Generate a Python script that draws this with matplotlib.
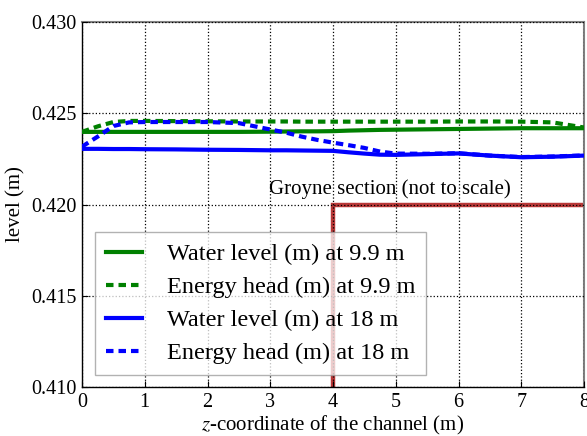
import matplotlib
matplotlib.use("Agg")
import matplotlib.pyplot as plt

plt.rcParams["font.family"] = ["Liberation Serif", "DejaVu Serif"]
plt.rcParams["mathtext.fontset"] = "stix"

# Longitudinal position along the channel (m)
z = [0.0, 0.25, 0.5, 0.75, 1.0, 1.5, 2.0, 2.5, 3.0, 3.25, 3.5, 3.75, 4.0, 4.25,
     4.5, 4.75, 5.0, 5.5, 6.0, 6.5, 7.0, 7.5, 7.75, 8.0]

# Section at 9.9 m
water_99 = [0.42398, 0.42398, 0.42398, 0.42398, 0.42398, 0.42398, 0.42398, 0.42398,
            0.42399, 0.42400, 0.42401, 0.42401, 0.42402, 0.42405, 0.42407, 0.42409,
            0.42410, 0.42412, 0.42414, 0.42416, 0.42418, 0.42418, 0.42418, 0.42418]
energy_99 = [0.42398, 0.42428, 0.42452, 0.42458, 0.42458, 0.42457, 0.42456, 0.42455,
             0.42455, 0.42455, 0.42454, 0.42454, 0.42454, 0.42454, 0.42454, 0.42454,
             0.42454, 0.42454, 0.42455, 0.42455, 0.42454, 0.42450, 0.42436, 0.42422]

# Section at 18 m
water_18 = [0.42305, 0.42305, 0.42304, 0.42304, 0.42303, 0.42302, 0.42300, 0.42299,
            0.42297, 0.42297, 0.42296, 0.42295, 0.42294, 0.42286, 0.42279, 0.42273,
            0.42272, 0.42276, 0.42280, 0.42268, 0.42259, 0.42262, 0.42265, 0.42268]
energy_18 = [0.42317, 0.42372, 0.42430, 0.42450, 0.42452, 0.42452, 0.42452, 0.42446,
             0.42411, 0.42394, 0.42372, 0.42354, 0.42339, 0.42325, 0.42310, 0.42290,
             0.42279, 0.42278, 0.42281, 0.42268, 0.42260, 0.42263, 0.42266, 0.42269]

# Schematic groyne outline
groyne_z = [4.0, 4.0, 8.0]
groyne_level = [0.410, 0.420, 0.420]

fig = plt.figure(figsize=(5.87, 4.36), dpi=100)
ax = fig.add_axes([0.1397, 0.1124, 0.8552, 0.8371])

ax.plot(groyne_z, groyne_level, color="#b22222", lw=3.2, alpha=0.9,
        solid_joinstyle="miter", zorder=1.5)
ax.text(4.9, 0.42032, "Groyne section (not to scale)", fontsize=15,
        ha="center", va="bottom", zorder=4)

ax.plot(z, water_99, color="#008000", lw=3, label="Water level (m) at 9.9 m", zorder=3)
ax.plot(z, energy_99, color="#008000", lw=3, dashes=(1.8, 1.2),
        label="Energy head (m) at 9.9 m", zorder=3)
ax.plot(z, water_18, color="#0000ff", lw=3, label="Water level (m) at 18 m", zorder=3)
ax.plot(z, energy_18, color="#0000ff", lw=3, dashes=(1.8, 1.2),
        label="Energy head (m) at 18 m", zorder=3)

ax.set_xlim(0, 8)
ax.set_ylim(0.410, 0.430)
ax.set_xticks(range(0, 9))
ax.set_yticks([0.410, 0.415, 0.420, 0.425, 0.430])
ax.yaxis.set_major_formatter(matplotlib.ticker.FormatStrFormatter("%.3f"))
ax.tick_params(direction="in", length=4, width=0.8, labelsize=14.5, pad=4)
ax.grid(True, linestyle=":", color="black", lw=0.9)
ax.set_axisbelow(False)

for side in ("left", "bottom"):
    ax.spines[side].set_color("black")
    ax.spines[side].set_linewidth(1.0)
for side in ("top", "right"):
    ax.spines[side].set_color("0.5")
    ax.spines[side].set_linewidth(1.5)

ax.set_xlabel("$z$-coordinate of the channel (m)", fontsize=15, labelpad=2)
ax.set_ylabel("level (m)", fontsize=15, labelpad=4)

leg = ax.legend(loc="lower left", bbox_to_anchor=(0.026, 0.033), fontsize=17.5,
                frameon=True, fancybox=False, framealpha=0.75, edgecolor="0.6",
                handlelength=1.5, handletextpad=1.0, borderaxespad=0,
                labelspacing=0.45, borderpad=0.45)
leg.get_frame().set_linewidth(1.0)
leg.set_zorder(5)

fig.savefig("out.png", dpi=100)
